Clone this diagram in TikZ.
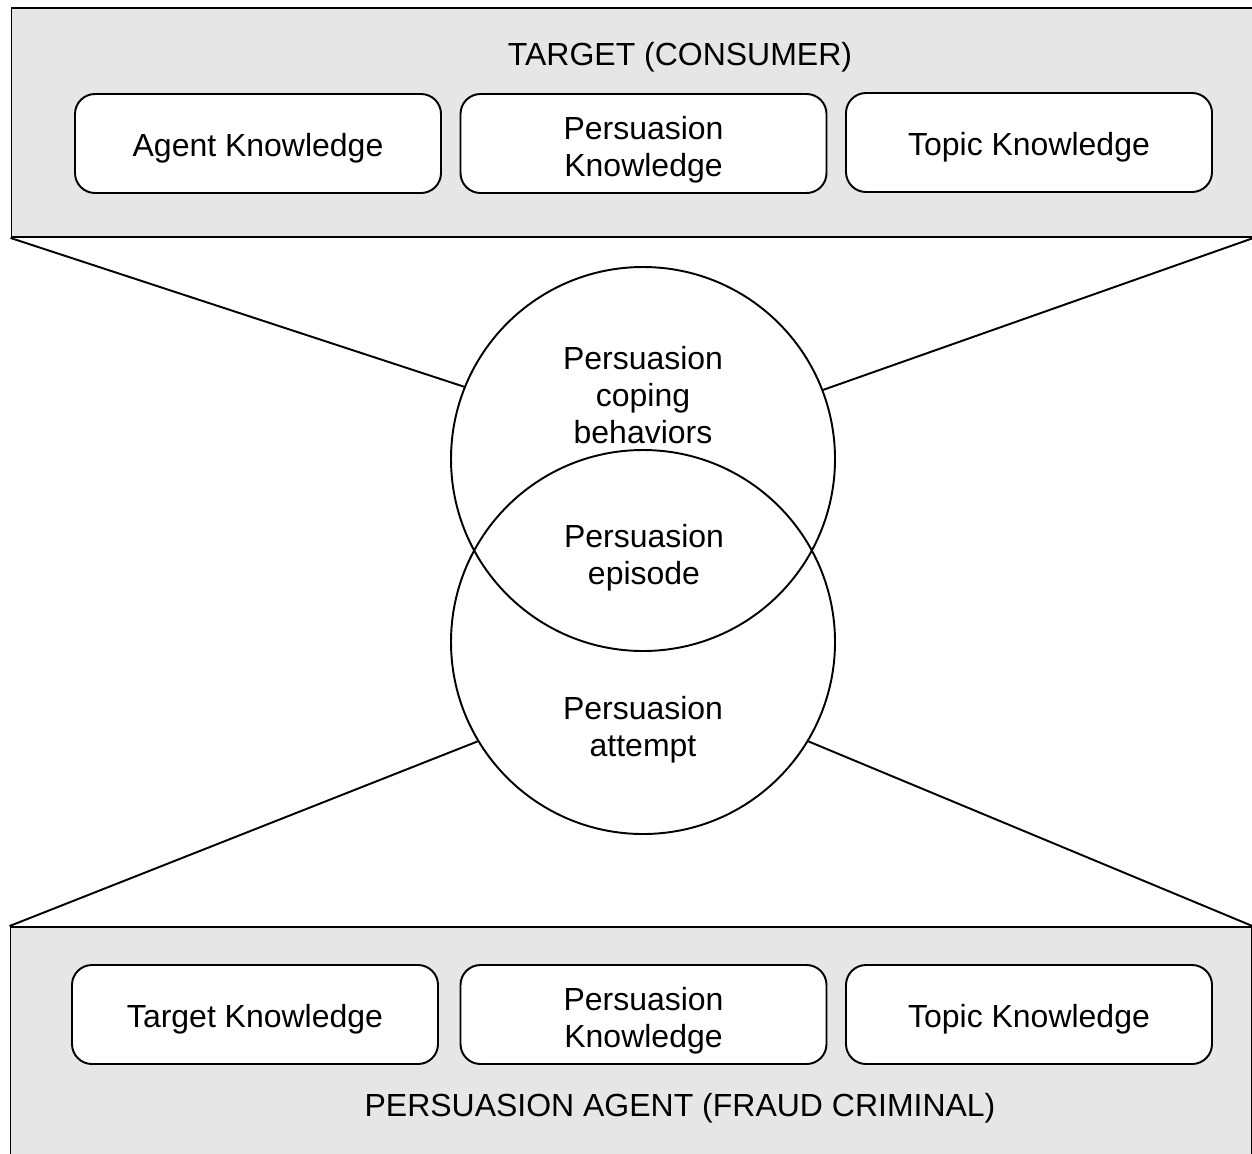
\documentclass[tikz,border=0pt]{standalone}
\usepackage{fontspec}
\setmainfont{Liberation Sans}
\definecolor{panelgray}{RGB}{230,230,230}
\newcommand{\liftstrut}{\rule{0pt}{19.9pt}}

\begin{document}
\begin{tikzpicture}[
		font=\fontsize{18.2}{21}\selectfont,
		panel/.style={draw, line width=1.1pt, fill=panelgray, minimum width=24.82cm},
		knowbase/.style={draw, line width=1.1pt, fill=white, rounded corners=0.4cm, align=center,
			minimum width=7.32cm, minimum height=1.98cm},
		know/.style={knowbase, text height=14.9pt, text depth=0pt},
		bubble/.style={draw, line width=1.1pt, circle, minimum size=7.68cm}]
		\useasboundingbox (0,0) rectangle (25.04,-23.06);
		\clip (0,0) rectangle (25.04,-23.06);

		% consumer side
		\node[panel, minimum height=4.58cm] (target) at (12.64,-2.45) {};
		\node (target_title) at (13.6,-1.14) {TARGET (CONSUMER)};
		\node[know] (agent_know) at (5.16,-2.87) {Agent Knowledge};
		\node[knowbase] (pers_know_t) at (12.87,-2.87) {\liftstrut Persuasion\\Knowledge};
		\node[know] (topic_know_t) at (20.58,-2.85) {Topic Knowledge};

		% agent side
		\node[panel, minimum height=4.76cm] (agent) at (12.62,-20.92) {};
		\node (agent_title) at (13.6,-22.16) {PERSUASION AGENT (FRAUD CRIMINAL)};
		\node[know] (target_know) at (5.10,-20.29) {Target Knowledge};
		\node[knowbase] (pers_know_b) at (12.87,-20.29) {\liftstrut Persuasion\\Knowledge};
		\node[know] (topic_know_b) at (20.58,-20.29) {Topic Knowledge};

		% episode
		\node[bubble] (coping) at (12.86,-9.18) {};
		\node[bubble] (attempt) at (12.86,-12.84) {};
		\node[align=center] (coping_text) at (12.86,-7.9) {Persuasion\\coping\\behaviors};
		\node[align=center] (episode_text) at (12.88,-11.15) {Persuasion\\episode};
		\node[align=center] (attempt_text) at (12.86,-14.59) {Persuasion\\attempt};

		\draw[line width=1.1pt] (target.south west) -- (coping.158);
		\draw[line width=1.1pt] (target.south east) -- (coping.21);
		\draw[line width=1.1pt] (agent.north west) -- (attempt.211);
		\draw[line width=1.1pt] (agent.north east) -- (attempt.329);
	\end{tikzpicture}
\end{document}
